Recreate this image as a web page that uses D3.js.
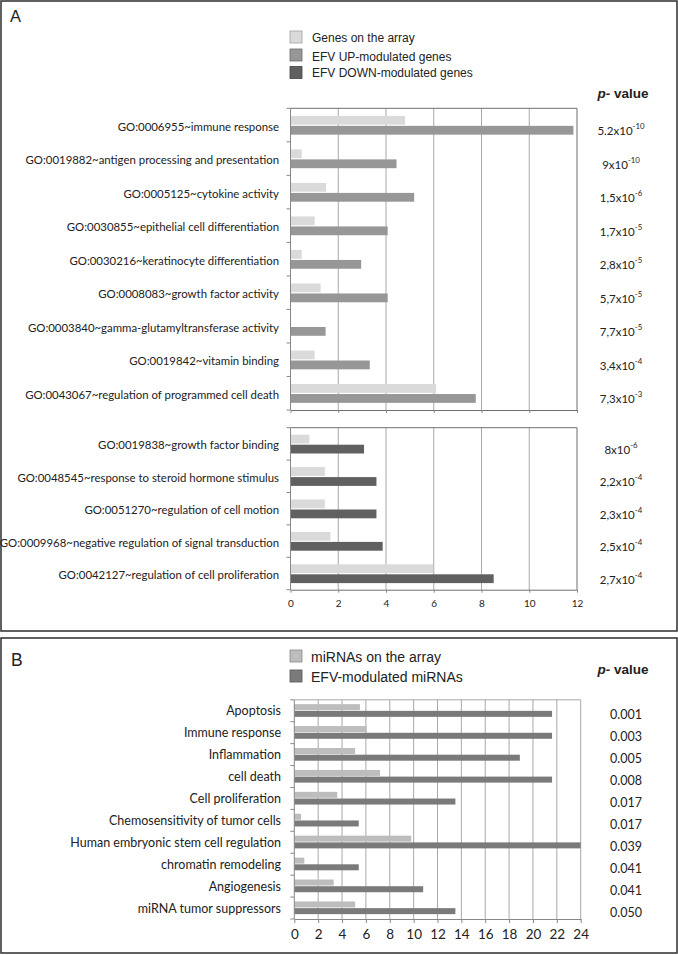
<!DOCTYPE html>
<html>
<head>
<meta charset="utf-8">
<script src="https://cdn.jsdelivr.net/npm/d3@7"></script>
<style>
  body { margin: 0; background: #fff; }
  .lbl { font-family: Lato, "Open Sans", sans-serif; fill: #222; }
  .arial { font-family: "Liberation Sans", Arial, sans-serif; fill: #222; }
</style>
</head>
<body>
<div id="chart"></div>
<script>
// panel A, up-modulated GO terms
const upTerms = [
  "GO:0006955~immune response",
  "GO:0019882~antigen processing and presentation",
  "GO:0005125~cytokine activity",
  "GO:0030855~epithelial cell differentiation",
  "GO:0030216~keratinocyte differentiation",
  "GO:0008083~growth factor activity",
  "GO:0003840~gamma-glutamyltransferase activity",
  "GO:0019842~vitamin binding",
  "GO:0043067~regulation of programmed cell death"
];
const upArray = [4.8, 0.47, 1.49, 1.01, 0.47, 1.26, 0.03, 1.01, 6.1];
const upGenes = [11.85, 4.44, 5.18, 4.07, 2.96, 4.07, 1.47, 3.32, 7.76];
const upP = ["5.2x10^-10", "9x10^-10", "1,5x10^-6", "1,7x10^-5", "2,8x10^-5",
  "5,7x10^-5", "7,7x10^-5", "3,4x10^-4", "7,3x10^-3"];

// panel A, down-modulated GO terms
const downTerms = [
  "GO:0019838~growth factor binding",
  "GO:0048545~response to steroid hormone stimulus",
  "GO:0051270~regulation of cell motion",
  "GO:0009968~negative regulation of signal transduction",
  "GO:0042127~regulation of cell proliferation"
];
const downArray = [0.79, 1.44, 1.44, 1.67, 5.97];
const downGenes = [3.08, 3.6, 3.6, 3.86, 8.51];
const downP = ["8x10^-6", "2,2x10^-4", "2,3x10^-4", "2,5x10^-4", "2,7x10^-4"];

const ticksA = [0, 2, 4, 6, 8, 10, 12];

// panel B, miRNA pathways
const mirTerms = ["Apoptosis", "Immune response", "Inflammation", "cell death",
  "Cell proliferation", "Chemosensitivity of tumor cells",
  "Human embryonic stem cell regulation", "chromatin remodeling",
  "Angiogenesis", "miRNA tumor suppressors"];
const mirArray = [5.5, 6.07, 5.1, 7.18, 3.6, 0.56, 9.8, 0.84, 3.3, 5.1];
const mirModulated = [21.6, 21.6, 18.9, 21.6, 13.5, 5.4, 24, 5.4, 10.8, 13.5];
const mirP = ["0.001", "0.003", "0.005", "0.008", "0.017", "0.017", "0.039",
  "0.041", "0.041", "0.050"];

const ticksB = d3.range(0, 25, 2);

const legendA = ["Genes on the array", "EFV UP-modulated genes", "EFV DOWN-modulated genes"];
const legendB = ["miRNAs on the array", "EFV-modulated miRNAs"];

const width = 678, height = 955;
const cLight = "#dadada", cUp = "#979797", cDown = "#606060";
const cLightB = "#bdbdbd", cDarkB = "#7a7a7a";
const gridCol = "#a8a8a8", frameCol = "#6e6e6e";

const svg = d3.select("#chart").append("svg")
  .attr("width", width).attr("height", height);

svg.append("rect").attr("width", width).attr("height", height).attr("fill", "#fff");

// outer panel boxes
svg.append("rect").attr("x", 1).attr("y", 1).attr("width", 676).attr("height", 630)
  .attr("fill", "none").attr("stroke", "#3a3a3a").attr("stroke-width", 1.6);
svg.append("rect").attr("x", 1).attr("y", 638).attr("width", 676).attr("height", 315)
  .attr("fill", "none").attr("stroke", "#3a3a3a").attr("stroke-width", 1.6);

svg.append("text").attr("class", "arial").attr("x", 10).attr("y", 22)
  .attr("font-size", 16.5).text("A");
svg.append("text").attr("class", "arial").attr("x", 11).attr("y", 666)
  .attr("font-size", 17.5).text("B");

// legends
const legA = svg.append("g").attr("transform", "translate(290,31)");
legA.selectAll("rect").data(legendA).join("rect")
  .attr("x", 0).attr("y", (d, i) => [0, 18, 35.5][i])
  .attr("width", 12).attr("height", 12)
  .attr("fill", (d, i) => [cLight, cUp, cDown][i])
  .attr("stroke", (d, i) => ["#a0a0a0", "#6a6a6a", "#444"][i]).attr("stroke-width", 0.8);
legA.selectAll("text").data(legendA).join("text")
  .attr("class", "arial").attr("x", 22).attr("y", (d, i) => [6.5, 26, 41.5][i])
  .attr("dominant-baseline", "central").attr("font-size", 12).text((d) => d);

const legB = svg.append("g").attr("transform", "translate(290,650)");
legB.selectAll("rect").data(legendB).join("rect")
  .attr("x", 0).attr("y", (d, i) => i * 20)
  .attr("width", 12).attr("height", 12)
  .attr("fill", (d, i) => [cLightB, cDarkB][i])
  .attr("stroke", (d, i) => ["#888", "#555"][i]).attr("stroke-width", 0.8);
legB.selectAll("text").data(legendB).join("text")
  .attr("class", "arial").attr("x", 21).attr("y", (d, i) => 7 + i * 20)
  .attr("dominant-baseline", "central").attr("font-size", 14).text((d) => d);

// p-value headers
[93, 669].forEach((y) => {
  const t = svg.append("text").attr("class", "arial").attr("x", 623).attr("y", y)
    .attr("text-anchor", "middle").attr("dominant-baseline", "central")
    .attr("font-size", 13.5).attr("font-weight", "bold");
  t.append("tspan").attr("font-style", "italic").text("p-");
  t.append("tspan").text(" value");
});

function pText(g, str, x, y, size) {
  const parts = str.split("^");
  const t = g.append("text").attr("class", "lbl").attr("x", x).attr("y", y)
    .attr("text-anchor", "middle").attr("dominant-baseline", "central")
    .attr("font-size", size).attr("fill", "#333");
  t.append("tspan").text(parts[0]);
  if (parts[1]) t.append("tspan").attr("dy", -4).attr("font-size", size * 0.68).text(parts[1]);
}

// panel A scales
const xA = d3.scaleLinear().domain([0, 12]).range([290.5, 577]);

function drawBlock(terms, light, dark, pvals, y0, y1, darkCol, showAxis) {
  const y = d3.scaleBand().domain(terms).range([y0, y1]);
  const g = svg.append("g");
  // gridlines
  g.selectAll("line.grid").data(ticksA.slice(1, -1)).join("line")
    .attr("x1", (d) => xA(d)).attr("x2", (d) => xA(d))
    .attr("y1", y0).attr("y2", y1)
    .attr("stroke", gridCol).attr("stroke-width", 1);
  // frame top/right
  g.append("path")
    .attr("d", `M${xA(0)},${y0}H${xA(12)}V${y1}`)
    .attr("fill", "none").attr("stroke", frameCol).attr("stroke-width", 1);
  // bars
  g.selectAll("rect.light").data(terms).join("rect")
    .attr("x", xA(0)).attr("y", (d) => y(d) + y.bandwidth() / 2 - 9.2)
    .attr("width", (d, i) => xA(light[i]) - xA(0)).attr("height", 8.8)
    .attr("fill", cLight);
  g.selectAll("rect.dark").data(terms).join("rect")
    .attr("x", xA(0)).attr("y", (d) => y(d) + y.bandwidth() / 2 + 0.8)
    .attr("width", (d, i) => xA(dark[i]) - xA(0)).attr("height", 8.8)
    .attr("fill", darkCol);
  // left axis
  const yTicks = d3.range(terms.length + 1).map((i) => y0 + i * y.step());
  g.append("line").attr("x1", xA(0)).attr("x2", xA(0)).attr("y1", y0).attr("y2", y1)
    .attr("stroke", "#888");
  g.selectAll("line.yt").data(yTicks).join("line")
    .attr("x1", xA(0) - 4).attr("x2", xA(0)).attr("y1", (d) => d).attr("y2", (d) => d)
    .attr("stroke", "#888");
  // bottom axis
  const ax = g.append("g").attr("transform", `translate(0,${y1})`)
    .call(d3.axisBottom(xA).tickValues(ticksA).tickSize(3).tickSizeOuter(0)
      .tickFormat(showAxis ? d3.format("d") : ""));
  ax.select(".domain").attr("stroke", frameCol);
  ax.selectAll(".tick line").attr("stroke", "#888");
  ax.selectAll("text").attr("class", "lbl").attr("font-size", 10).attr("fill", "#333")
    .attr("dy", "1.1em");
  // category labels
  g.selectAll("text.cat").data(terms).join("text")
    .attr("class", "lbl").attr("x", 279).attr("y", (d) => y(d) + y.bandwidth() / 2 + 1)
    .attr("text-anchor", "end").attr("dominant-baseline", "central")
    .attr("font-size", 11.4).text((d) => d);
  pvals.forEach((p, i) => pText(g, p, 621, y(terms[i]) + y.bandwidth() / 2 + 5, 11.5));
}

drawBlock(upTerms, upArray, upGenes, upP, 108.3, 410, cUp, false);
drawBlock(downTerms, downArray, downGenes, downP, 427.7, 589.7, cDown, true);

// panel B
const xB = d3.scaleLinear().domain([0, 24]).range([294.3, 580.7]);
const yB = d3.scaleBand().domain(mirTerms).range([699.8, 919]);
const gB = svg.append("g");
gB.selectAll("line.grid").data(ticksB.slice(1)).join("line")
  .attr("x1", (d) => xB(d)).attr("x2", (d) => xB(d))
  .attr("y1", 699.8).attr("y2", 919)
  .attr("stroke", gridCol);
gB.append("line").attr("x1", xB(0)).attr("x2", xB(24)).attr("y1", 699.8).attr("y2", 699.8)
  .attr("stroke", gridCol);
gB.selectAll("rect.light").data(mirTerms).join("rect")
  .attr("x", xB(0)).attr("y", (d) => yB(d) + yB.bandwidth() / 2 - 6.6)
  .attr("width", (d, i) => xB(mirArray[i]) - xB(0)).attr("height", 6)
  .attr("fill", cLightB);
gB.selectAll("rect.dark").data(mirTerms).join("rect")
  .attr("x", xB(0)).attr("y", (d) => yB(d) + yB.bandwidth() / 2 + 0.1)
  .attr("width", (d, i) => xB(mirModulated[i]) - xB(0)).attr("height", 6)
  .attr("fill", cDarkB);
const yTicksB = d3.range(mirTerms.length + 1).map((i) => 699.8 + i * yB.step());
gB.append("line").attr("x1", xB(0)).attr("x2", xB(0)).attr("y1", 699.8).attr("y2", 919)
  .attr("stroke", "#888");
gB.selectAll("line.yt").data(yTicksB).join("line")
  .attr("x1", xB(0) - 4).attr("x2", xB(0)).attr("y1", (d) => d).attr("y2", (d) => d)
  .attr("stroke", "#888");
const axB = gB.append("g").attr("transform", "translate(0,919)")
  .call(d3.axisBottom(xB).tickValues(ticksB).tickSize(4).tickSizeOuter(0).tickFormat(d3.format("d")));
axB.select(".domain").attr("stroke", "#888");
axB.selectAll(".tick line").attr("stroke", "#888");
axB.selectAll("text").attr("class", "lbl").attr("font-size", 13.5).attr("fill", "#333")
  .attr("dy", "0.95em");
gB.selectAll("text.cat").data(mirTerms).join("text")
  .attr("class", "lbl").attr("x", 281).attr("y", (d) => yB(d) + yB.bandwidth() / 2)
  .attr("text-anchor", "end").attr("dominant-baseline", "central")
  .attr("font-size", 12.5).text((d) => d);
mirP.forEach((p, i) => pText(gB, p, 626, yB(mirTerms[i]) + yB.bandwidth() / 2 + 3.5, 12.5));
</script>
</body>
</html>
